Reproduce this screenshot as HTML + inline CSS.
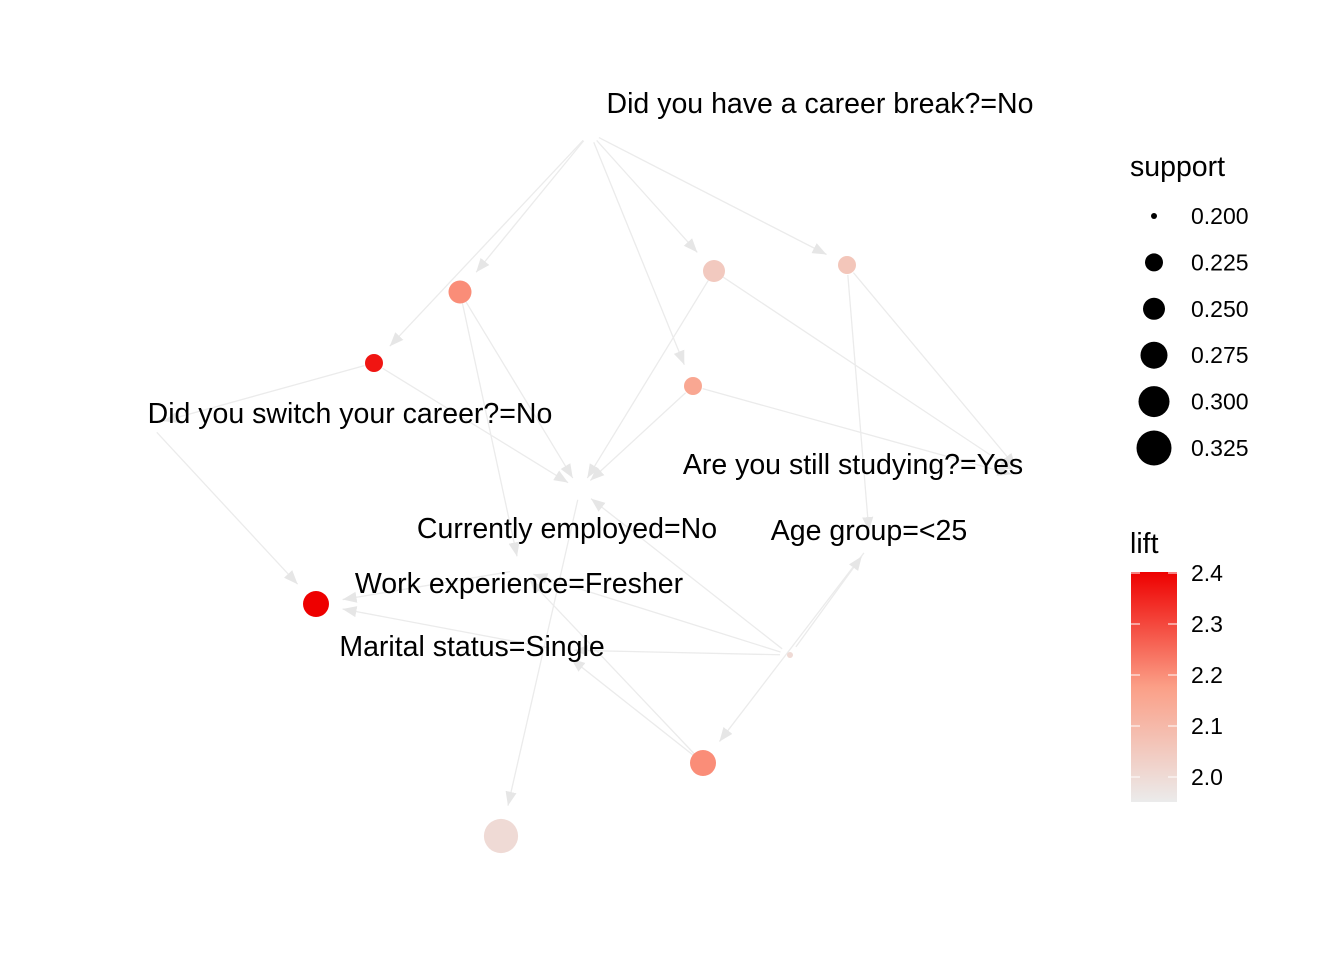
<!DOCTYPE html>
<html><head><meta charset="utf-8"><style>
body{margin:0;background:#fff;width:1344px;height:960px;overflow:hidden}
svg{font-family:"Liberation Sans",Arial,sans-serif}
</style></head><body>
<svg id="chart" width="1344" height="960" xmlns="http://www.w3.org/2000/svg">
<defs>
<marker id="arr" viewBox="0 0 10 10" refX="10" refY="5" markerWidth="14" markerHeight="14" markerUnits="userSpaceOnUse" orient="auto"><path d="M0,1 L10,5 L0,9 z" fill="#e6e6e6"/></marker>
<linearGradient id="liftgrad" x1="0" y1="1" x2="0" y2="0">
<stop offset="0" stop-color="#ebebeb"/><stop offset="0.5" stop-color="#fb9f87"/><stop offset="1" stop-color="#ee0000"/></linearGradient>
</defs>
<g id="edges"></g>
<g id="nodes"></g>
<g id="labels"></g>
<g id="legend">
<text x="1130" y="176" font-size="28.5" fill="#000">support</text>
<text x="1130" y="553" font-size="28.5" fill="#000">lift</text>
<rect x="1131" y="572" width="46" height="230" fill="url(#liftgrad)"/>
</g>
</svg>
<script>
// rule nodes (layout position + measures)
const ruleX = [460, 714, 847, 374, 693, 316, 703, 501, 790];
const ruleY = [292, 271, 265, 363, 386, 604, 763, 836, 655];
const ruleSupport = [0.255, 0.25, 0.225, 0.225, 0.225, 0.27, 0.27, 0.32, 0.20];
const ruleLift = [2.2, 2.05, 2.06, 2.37, 2.15, 2.4, 2.2, 2.0, 2.0];
// item labels
const itemNames = ["Did you have a career break?=No","Did you switch your career?=No","Currently employed=No","Work experience=Fresher","Marital status=Single","Are you still studying?=Yes","Age group=<25"];
const itemX = [820, 350, 567, 519, 472, 853, 869];
const itemY = [103, 413, 528, 583, 646, 464, 530];
const itemAnchorX = [590, 150, 580, 520, 560, 1025, 870];
const itemAnchorY = [133, 425, 490, 570, 650, 478, 545];
// edges: item->rule (dir 1) or rule->item (dir 0)
const edgeItem = [0,0,0,0,0,1,1,2,2,2,2,2,3,3,3,4,4,4,5,5,5,6,6,6,2,3];
const edgeRule = [0,3,1,4,2,3,5,0,3,1,4,8,5,8,6,5,6,8,2,1,4,6,2,8,7,0];
const edgeDir  = [1,1,1,1,1,0,1,0,0,0,0,0,1,0,0,1,0,0,0,0,0,1,0,0,1,0];
const supTicks = [0.200,0.225,0.250,0.275,0.300,0.325];
const liftTicks = [2.0,2.1,2.2,2.3,2.4];
const supRadius = [3,9,11,13.5,15.5,17.5];

const NS="http://www.w3.org/2000/svg";
function rScale(s){
  if(s<=supTicks[0])return supRadius[0];
  for(let i=1;i<supTicks.length;i++){if(s<=supTicks[i]){const u=(s-supTicks[i-1])/(supTicks[i]-supTicks[i-1]);return supRadius[i-1]+u*(supRadius[i]-supRadius[i-1]);}}
  return supRadius[supRadius.length-1];
}
const liftY = l => 777 - (l-2.0)*510;
function liftColor(l){
  const t=Math.max(0,Math.min(1,(l-1.95)/0.45));
  const a=[235,235,235], m=[251,159,135], b=[238,0,0];
  let c;
  if(t<0.5){const u=t/0.5;c=a.map((v,i)=>v+(m[i]-v)*u);} else {const u=(t-0.5)/0.5;c=m.map((v,i)=>v+(b[i]-v)*u);}
  return "rgb("+c.map(Math.round).join(",")+")";
}
function mk(tag,attrs,parent){const e=document.createElementNS(NS,tag);for(const k in attrs)e.setAttribute(k,attrs[k]);parent.appendChild(e);return e;}
const gE=document.getElementById('edges'),gN=document.getElementById('nodes'),gL=document.getElementById('labels'),gLeg=document.getElementById('legend');
for(let i=0;i<edgeItem.length;i++){
  const ix=itemAnchorX[edgeItem[i]],iy=itemAnchorY[edgeItem[i]],rx=ruleX[edgeRule[i]],ry=ruleY[edgeRule[i]];
  let x1,y1,x2,y2;
  if(edgeDir[i]===1){x1=ix;y1=iy;x2=rx;y2=ry;}else{x1=rx;y1=ry;x2=ix;y2=iy;}
  const dx=x2-x1,dy=y2-y1,d=Math.hypot(dx,dy);
  const s=edgeDir[i]===1?rScale(ruleSupport[edgeRule[i]])+14:14;
  const l=mk('line',{x1:x1+dx/d*10,y1:y1+dy/d*10,x2:x2-dx/d*s,y2:y2-dy/d*s,stroke:'#ebebeb','stroke-width':1.3,'marker-end':'url(#arr)'},gE);
  
  
}
for(let i=0;i<ruleX.length;i++){
  const c=mk('circle',{cx:ruleX[i],cy:ruleY[i],r:rScale(ruleSupport[i]),fill:liftColor(ruleLift[i])},gN);
  
  
}
for(let i=0;i<itemNames.length;i++){
  const t=mk('text',{x:itemX[i],y:itemY[i]+10,'font-size':28.5,'text-anchor':'middle',fill:'#000'},gL);
  t.textContent=itemNames[i];
  
  
}
supTicks.forEach((s,i)=>{
  const y=216+i*46.4;
  const c=mk('circle',{cx:1154,cy:y,r:rScale(s),fill:'#000'},gLeg);
  
  
  const t=mk('text',{x:1191,y:y+8,'font-size':23,fill:'#000'},gLeg);
  t.textContent=s.toFixed(3);
  
  
});
liftTicks.forEach(l=>{
  const y=liftY(l);
  mk('line',{x1:1131,x2:1140,y1:y,y2:y,stroke:'#fff','stroke-width':1},gLeg);
  mk('line',{x1:1168,x2:1177,y1:y,y2:y,stroke:'#fff','stroke-width':1},gLeg);
  const t=mk('text',{x:1191,y:y+8,'font-size':23,fill:'#000'},gLeg);
  t.textContent=l.toFixed(1);
  
  
});
</script>
</body></html>
